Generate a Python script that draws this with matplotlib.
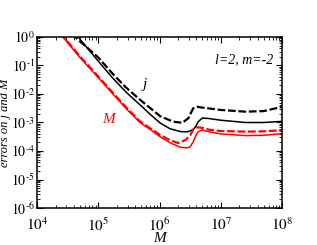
import numpy as np
import matplotlib
matplotlib.use("Agg")
import matplotlib.pyplot as plt
from matplotlib.ticker import LogLocator, NullFormatter, FuncFormatter

plt.rcParams['font.family'] = ['Liberation Serif', 'DejaVu Serif']
plt.rcParams['mathtext.fontset'] = 'stix'

# log10 of M and of the errors
m_red_solid = [4.38, 4.42, 4.7, 5.0, 5.25, 5.47, 5.68, 5.85, 6.01, 6.17, 6.34, 6.45, 6.5, 6.55, 6.6, 6.63, 6.70, 6.79, 7.0, 7.4, 7.7, 8.0]
e_red_solid = [0.1, 0.0, -0.72, -1.43, -2.03, -2.55, -3.0, -3.25, -3.5, -3.71, -3.87, -3.89, -3.85, -3.67, -3.42, -3.32, -3.26, -3.32, -3.4, -3.46, -3.45, -3.39]

m_red_dash = [4.38, 4.42, 4.7, 5.0, 5.25, 5.47, 5.68, 5.85, 6.01, 6.17, 6.3, 6.42, 6.5, 6.53, 6.56, 6.62, 6.71, 6.8, 7.0, 7.4, 7.7, 8.0]
e_red_dash = [0.14, 0.04, -0.68, -1.39, -1.99, -2.51, -2.96, -3.21, -3.44, -3.62, -3.72, -3.62, -3.45, -3.32, -3.2, -3.17, -3.19, -3.25, -3.3, -3.32, -3.31, -3.27]

m_blk_solid = [4.62, 4.67, 5.0, 5.23, 5.45, 5.68, 5.85, 6.01, 6.17, 6.34, 6.45, 6.55, 6.6, 6.63, 6.70, 6.8, 7.0, 7.4, 7.7, 8.0]
e_blk_solid = [0.13, 0.0, -0.85, -1.43, -1.93, -2.38, -2.72, -3.02, -3.22, -3.32, -3.33, -3.25, -3.1, -2.97, -2.84, -2.86, -2.92, -3.0, -3.0, -2.96]

m_blk_dash = [4.57, 4.62, 5.0, 5.23, 5.45, 5.68, 5.85, 6.01, 6.22, 6.37, 6.47, 6.52, 6.55, 6.61, 6.71, 7.0, 7.4, 7.7, 8.0]
e_blk_dash = [0.13, 0.0, -0.72, -1.28, -1.77, -2.2, -2.5, -2.78, -2.97, -3.01, -2.85, -2.62, -2.5, -2.45, -2.48, -2.56, -2.62, -2.6, -2.45]

x_ticks = [1e4, 1e5, 1e6, 1e7, 1e8]
y_ticks = [1e-6, 1e-5, 1e-4, 1e-3, 1e-2, 1e-1, 1e0]


def fmt(v, pos):
    e = int(round(np.log10(v)))
    if e < 0:
        return r'$10^{\text{-}%d}$' % (-e)
    return r'$10^{%d}$' % e


fig = plt.figure(figsize=(3.17, 2.45), dpi=100)
ax = fig.add_axes([0.117, 0.151, 0.773, 0.698])

p = lambda v: 10 ** np.asarray(v)
ax.plot(p(m_blk_solid), p(e_blk_solid), color='black', lw=1.1)
ax.plot(p(m_blk_dash), p(e_blk_dash), color='black', lw=1.6, dashes=(3.5, 1.2))
ax.plot(p(m_red_solid), p(e_red_solid), color='#ff0000', lw=1.1)
ax.plot(p(m_red_dash), p(e_red_dash), color='#ff0000', lw=1.6, dashes=(3.5, 1.2))

ax.set_xscale('log')
ax.set_yscale('log')
ax.set_xlim(1e4, 1e8)
ax.set_ylim(1e-6, 1e0)
ax.set_xticks(x_ticks)
ax.set_yticks(y_ticks)
ax.xaxis.set_major_formatter(FuncFormatter(fmt))
ax.yaxis.set_major_formatter(FuncFormatter(fmt))
ax.xaxis.set_minor_locator(LogLocator(base=10, subs=np.arange(2, 10), numticks=20))
ax.yaxis.set_minor_locator(LogLocator(base=10, subs=np.arange(2, 10), numticks=20))
ax.xaxis.set_minor_formatter(NullFormatter())
ax.yaxis.set_minor_formatter(NullFormatter())

ax.tick_params(which='both', direction='in', top=True, right=True)
ax.tick_params(axis='x', pad=6, labelsize=11)
ax.tick_params(axis='y', pad=1.5, labelsize=10)
ax.tick_params(which='major', length=4, width=0.8)
ax.tick_params(which='minor', length=2, width=0.6)
for s in ax.spines.values():
    s.set_linewidth(1.1)

ax.set_xlabel('M', fontstyle='italic', fontsize=11, labelpad=-1)
ax.set_ylabel('errors on j and M', fontstyle='italic', fontsize=9)
ax.yaxis.set_label_coords(-0.105, 0.5)

ax.text(10**5.76, 10**-1.68, 'j', color='black', fontstyle='italic', fontsize=11, ha='center', va='center')
ax.text(10**5.16, 10**-2.9, 'M', color='#ff0000', fontstyle='italic', fontsize=11, ha='center', va='center')
ax.text(0.963, 0.866, 'l=2, m=-2', transform=ax.transAxes, fontstyle='italic', fontsize=10, ha='right', va='center')

fig.savefig('out.png', dpi=100)
